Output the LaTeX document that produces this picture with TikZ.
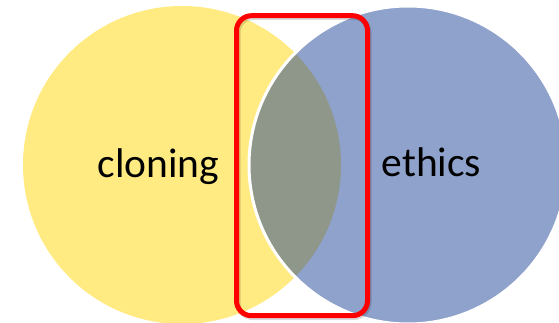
\documentclass[tikz,border=0pt]{standalone}
\usepackage{fontspec}
\setmainfont{Carlito}
\definecolor{cloningyellow}{RGB}{255,235,130}
\definecolor{ethicsblue}{RGB}{143,162,203}
\definecolor{lensgrey}{RGB}{143,151,139}
\begin{document}
\begin{tikzpicture}[x=1pt,y=-1pt,
  setcircle/.style={circle, minimum size=318pt, inner sep=0pt},
  setlabel/.style={font=\fontsize{41.5}{50}\selectfont, anchor=base, inner sep=0pt},
  focusbox/.style={rectangle, rounded corners=15pt, line width=5pt,
    minimum width=131pt, minimum height=300pt}]
\useasboundingbox (0,0) rectangle (559,323);
% the two sets
\node[setcircle, fill=cloningyellow] (cloning) at (182,165) {};
\node[setcircle, fill=ethicsblue] (ethics) at (408,165) {};
% overlap
\begin{scope}
\clip (cloning.center) circle (159pt);
\fill[lensgrey] (ethics.center) circle (159pt);
\end{scope}
\draw[white, line width=3pt] (ethics.center) circle (159pt);
\node[setlabel] (cloninglabel) at (158.5,178) {cloning};
\node[setlabel] (ethicslabel) at (431.5,177) {ethics};
% highlight
\node[focusbox, draw=black, opacity=0.15] (focusshadow) at (303.5,167.5) {};
\node[focusbox, draw=red] (focus) at (302,165.7) {};
\end{tikzpicture}
\end{document}
